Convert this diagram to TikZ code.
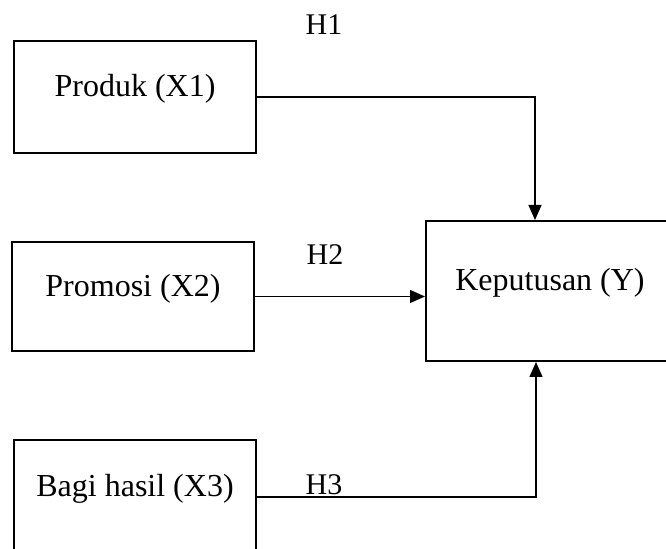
\documentclass[tikz,border=0pt]{standalone}
\usepackage{fontspec}
\setmainfont{Liberation Serif}
\usetikzlibrary{arrows.meta}
\usetikzlibrary{positioning}

\tikzset{
    varbox/.style={draw, line width=1pt, inner sep=0pt, minimum width=121pt,
        text height=1.2ex, text depth=1.2ex, font=\fontsize{16}{19}\selectfont},
    hlabel/.style={anchor=base, font=\fontsize{15}{18}\selectfont},
    link/.style={line width=0.65pt, -{Triangle[length=7.5pt,width=6.5pt]}}
}

\begin{document}
\begin{tikzpicture}[x=0.5pt, y=-0.5pt]
        \path[use as bounding box, clip] (0,0) rectangle (666,549);
    %Boxes
        \node[varbox, minimum height=56pt] (produk) at (135,97) {Produk (X1)};
        \node[varbox, minimum height=54.5pt] (promosi) at (133,296.5) {Promosi (X2)};
        \node[varbox, minimum height=57pt] (bagi) at (135,497) {Bagi hasil (X3)};
        \node[varbox, minimum width=124pt, minimum height=70pt] (keputusan) at (550,291) {Keputusan (Y)};
    %Arrows
        \coordinate (topin) at ([xshift=-7.5pt]keputusan.north);
        \coordinate (botin) at ([xshift=-7pt]keputusan.south);
        \draw[link] (produk.east) -| (topin);
        \draw[link] (promosi.east) -- (promosi.east -| keputusan.west);
        \draw[link] (bagi.east) -| (botin);
    %Labels
        \node[hlabel] (h1) at (324,35) {H1};
        \node[hlabel] (h2) at (325,265) {H2};
        \node[hlabel] (h3) at (324,495) {H3};
\end{tikzpicture}
\end{document}
